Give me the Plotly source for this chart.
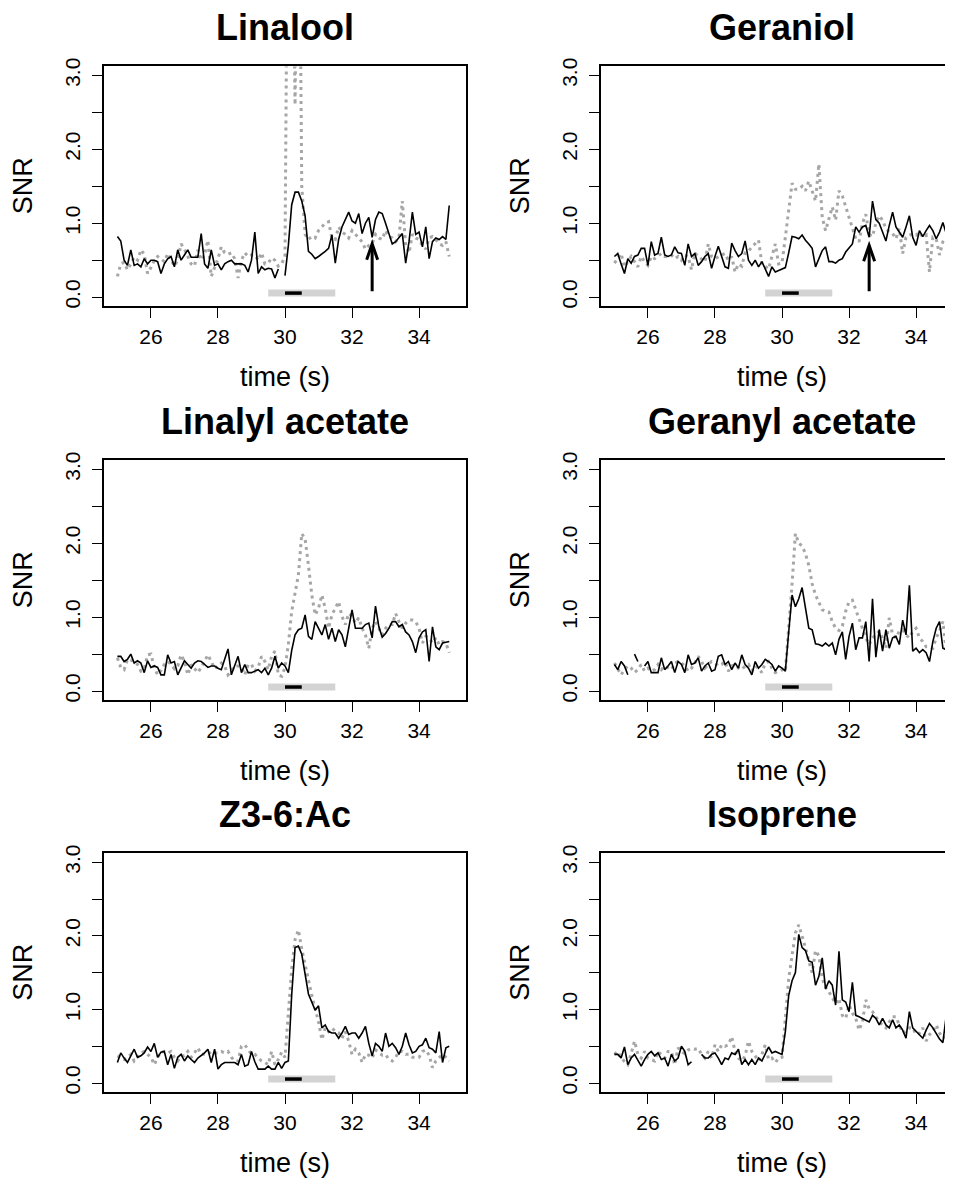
import plotly.graph_objects as go

PAGE_W, PAGE_H = 953, 1185
OFF = 8  # default body margin of the html page
W, H = PAGE_W - OFF, PAGE_H - OFF

# ---------------- data ----------------
time_s = [round(25.0 + 0.1 * i, 1) for i in range(100)]

titles = ["Linalool", "Geraniol", "Linalyl acetate", "Geranyl acetate", "Z3-6:Ac", "Isoprene"]

linalool_black = [
    0.82, 0.76, 0.50, 0.43, 0.64, 0.43, 0.45, 0.41, 0.52, 0.45,
    0.50, 0.50, 0.48, 0.32, 0.45, 0.52, 0.55, 0.41, 0.64, 0.50,
    0.57, 0.64, 0.54, 0.54, 0.54, 0.86, 0.45, 0.39, 0.64, 0.43,
    0.45, 0.37, 0.45, 0.48, 0.50, 0.45, 0.45, 0.45, 0.43, 0.34,
    0.50, 0.88, 0.32, 0.41, 0.37, 0.39, 0.38, 0.26, 0.38, None,
    0.29, 0.70, 1.25, 1.42, 1.42, 1.30, 1.10, 0.62, 0.58, 0.52,
    0.55, 0.58, 0.62, 0.66, 0.84, 0.46, 0.78, 0.95, 1.05, 1.15,
    1.03, 1.00, 1.13, 0.86, 1.00, 1.08, 0.81, 1.05, 1.15, 1.13,
    1.00, 0.85, 0.72, 0.75, 0.80, 0.86, 0.46, 0.75, 1.15, 0.85,
    0.88, 0.68, 0.95, 0.52, 0.75, 0.80, 0.78, 0.82, 0.78, 1.24]
linalool_gray = [
    0.28, 0.45, 0.47, 0.37, 0.45, 0.54, 0.50, 0.64, 0.58, 0.32,
    0.40, 0.50, 0.55, 0.52, 0.48, 0.59, 0.50, 0.42, 0.50, 0.72,
    0.65, 0.55, 0.45, 0.42, 0.64, 0.50, 0.58, 0.77, 0.28, 0.40,
    0.52, 0.68, 0.60, 0.58, 0.60, 0.52, 0.26, 0.50, 0.60, 0.55,
    0.57, 0.57, 0.50, 0.60, 0.45, 0.46, 0.53, 0.50, 0.42, 0.45,
    0.55, 7.00, 6.00, 2.60, 7.00, 1.50, 0.85, 0.78, 0.82, 0.80,
    0.90, 0.95, 1.00, 1.02, 0.80, 0.78, 0.95, 0.88, 0.85, 0.80,
    0.90, 0.85, 0.80, 0.75, 0.65, 0.70, 0.72, 0.85, 0.80, 0.78,
    0.90, 0.82, 0.80, 0.75, 0.80, 1.30, 0.70, 0.60, 0.85, 0.80,
    0.78, 0.70, 0.65, 0.80, 0.82, 0.78, 0.72, 0.70, 0.75, 0.55]

geraniol_black = [
    0.55, 0.59, 0.45, 0.32, 0.52, 0.46, 0.55, 0.57, 0.66, 0.66,
    0.43, 0.75, 0.57, 0.59, 0.81, 0.57, 0.55, 0.57, 0.68, 0.60,
    0.59, 0.43, 0.72, 0.55, 0.59, 0.43, 0.48, 0.55, 0.59, 0.39,
    0.55, 0.69, 0.55, 0.41, 0.39, 0.73, 0.63, 0.55, 0.59, 0.76,
    0.50, 0.43, 0.50, 0.41, 0.48, 0.39, 0.28, 0.41, 0.34, 0.36,
    0.38, 0.40, 0.60, 0.82, 0.81, 0.79, 0.84, 0.77, 0.72, 0.66,
    0.41, 0.52, 0.63, 0.68, 0.48, 0.48, 0.46, 0.50, 0.52, 0.61,
    0.66, 0.72, 0.95, 0.88, 0.95, 0.97, 0.81, 1.30, 1.05, 1.00,
    0.88, 0.76, 0.97, 1.15, 0.95, 0.88, 0.81, 0.95, 1.10, 0.81,
    0.70, 0.90, 0.82, 0.90, 0.97, 0.90, 0.79, 0.88, 1.01, 0.86]
geraniol_gray = [
    0.46, 0.52, 0.59, 0.41, 0.48, 0.55, 0.48, 0.41, 0.55, 0.48,
    0.43, 0.55, 0.52, 0.55, 0.59, 0.55, 0.55, 0.57, 0.52, 0.55,
    0.50, 0.57, 0.55, 0.37, 0.60, 0.55, 0.52, 0.48, 0.72, 0.55,
    0.52, 0.55, 0.57, 0.59, 0.50, 0.55, 0.34, 0.45, 0.42, 0.60,
    0.62, 0.68, 0.73, 0.77, 0.45, 0.41, 0.38, 0.55, 0.72, 0.45,
    0.46, 0.81, 1.22, 1.54, 1.46, 1.46, 1.50, 1.44, 1.57, 1.42,
    1.30, 1.80, 1.08, 0.90, 1.08, 1.22, 1.04, 1.44, 1.37, 1.22,
    1.06, 0.93, 0.79, 0.75, 1.00, 1.12, 0.85, 0.82, 1.00, 1.10,
    1.04, 0.93, 0.88, 0.86, 0.79, 0.93, 0.59, 0.81, 0.84, 0.86,
    0.84, 0.88, 0.81, 0.84, 0.34, 0.81, 0.79, 0.57, 0.75, 0.81]

linalyl_black = [
    0.47, 0.47, 0.40, 0.43, 0.50, 0.38, 0.41, 0.38, 0.25, 0.41,
    0.32, 0.34, 0.32, 0.22, 0.22, 0.49, 0.38, 0.40, 0.22, 0.31,
    0.41, 0.36, 0.31, 0.38, 0.41, 0.40, 0.36, 0.32, 0.34, 0.34,
    0.31, 0.29, 0.43, 0.57, 0.22, 0.34, 0.47, 0.25, 0.36, 0.25,
    0.25, 0.27, 0.29, 0.25, 0.31, 0.22, 0.31, 0.47, 0.31, 0.38,
    0.34, 0.25, 0.55, 0.76, 0.83, 0.85, 1.03, 0.74, 0.70, 0.94,
    0.85, 0.76, 0.90, 0.70, 0.85, 0.67, 0.83, 0.76, 0.60, 0.83,
    1.10, 0.85, 0.85, 0.85, 0.90, 0.92, 0.72, 1.15, 0.87, 0.73,
    0.78, 0.85, 0.94, 0.94, 0.87, 0.90, 0.80, 0.76, 0.67, 0.52,
    0.72, 0.80, 0.83, 0.40, 0.87, 0.60, 0.56, 0.65, 0.66, 0.67]
linalyl_gray = [
    0.45, 0.32, 0.29, 0.43, 0.42, 0.40, 0.36, 0.27, 0.30, 0.49,
    0.50, 0.32, 0.22, 0.28, 0.36, 0.40, 0.36, 0.30, 0.34, 0.49,
    0.40, 0.22, 0.36, 0.30, 0.25, 0.32, 0.40, 0.49, 0.40, 0.30,
    0.34, 0.38, 0.34, 0.22, 0.27, 0.34, 0.34, 0.32, 0.22, 0.36,
    0.36, 0.27, 0.32, 0.47, 0.40, 0.29, 0.47, 0.54, 0.22, 0.20,
    0.32, 0.63, 1.08, 1.34, 1.57, 2.13, 2.06, 1.70, 1.30, 1.03,
    1.12, 1.30, 1.12, 0.85, 1.03, 1.12, 1.21, 1.01, 0.90, 1.05,
    1.01, 0.92, 0.99, 0.85, 0.76, 0.58, 0.85, 0.94, 0.85, 0.76,
    0.85, 0.90, 0.90, 1.05, 0.94, 0.85, 0.92, 0.96, 0.96, 0.94,
    0.85, 0.65, 0.74, 0.72, 0.65, 0.72, 0.63, 0.67, 0.65, 0.52]

geranyl_black = [
    0.36, 0.29, 0.40, 0.34, 0.22, None, 0.50, 0.40, None, 0.34,
    0.40, 0.25, 0.25, 0.25, 0.45, 0.29, 0.34, 0.40, 0.25, 0.40,
    0.36, 0.25, 0.49, 0.36, 0.38, 0.45, 0.27, 0.34, 0.38, 0.27,
    0.29, 0.47, 0.49, 0.36, 0.40, 0.29, 0.38, 0.31, 0.49, 0.36,
    0.31, 0.22, 0.40, 0.31, 0.36, 0.43, 0.40, 0.36, 0.27, 0.34,
    0.31, 0.27, 0.80, 1.30, 1.14, 1.25, 1.40, 1.10, 0.85, 0.83,
    0.64, 0.63, 0.61, 0.65, 0.61, 0.65, 0.49, 0.70, 0.80, 0.43,
    0.74, 0.92, 0.56, 0.72, 0.72, 0.94, 0.40, 1.25, 0.46, 0.83,
    0.54, 0.83, 0.58, 0.72, 0.74, 0.63, 0.96, 0.76, 1.43, 0.54,
    0.58, 0.52, 0.56, 0.52, 0.40, 0.67, 0.85, 0.94, 0.58, 0.56]
geranyl_gray = [
    0.38, 0.29, 0.22, 0.29, 0.34, 0.31, 0.25, 0.29, 0.36, 0.27,
    0.31, 0.27, 0.29, 0.36, 0.29, 0.34, 0.31, 0.29, 0.38, 0.40,
    0.38, 0.34, 0.27, 0.31, 0.38, 0.47, 0.40, 0.31, 0.36, 0.40,
    0.38, 0.34, 0.36, 0.40, 0.27, 0.34, 0.36, 0.31, 0.29, 0.34,
    0.36, 0.27, 0.34, 0.31, 0.25, 0.38, 0.40, 0.31, 0.25, 0.27,
    0.29, 0.27, 0.80, 1.45, 2.13, 2.00, 1.96, 1.86, 1.70, 1.45,
    1.30, 1.20, 1.10, 1.08, 1.07, 0.94, 0.85, 0.82, 0.88, 1.08,
    1.21, 1.23, 1.10, 0.99, 0.85, 0.72, 0.63, 0.72, 0.76, 0.81,
    0.72, 0.58, 0.99, 0.76, 0.72, 0.81, 0.83, 0.76, 0.72, 0.81,
    0.85, 0.72, 0.67, 0.60, 0.60, 0.58, 0.72, 0.81, 0.94, 0.54]

z36ac_black = [
    0.28, 0.41, 0.34, 0.28, 0.37, 0.46, 0.35, 0.37, 0.41, 0.49,
    0.43, 0.54, 0.35, 0.42, 0.43, 0.25, 0.39, 0.20, 0.35, 0.39,
    0.30, 0.37, 0.32, 0.28, 0.34, 0.37, 0.41, 0.46, 0.28, 0.46,
    0.19, 0.25, 0.28, 0.28, 0.28, 0.28, 0.25, 0.39, 0.23, 0.25,
    0.43, 0.29, 0.19, 0.19, 0.19, 0.23, 0.19, 0.19, 0.28, 0.20,
    0.28, 0.30, 1.20, 1.84, 1.86, 1.75, 1.50, 1.21, 1.10, 0.99,
    1.05, 0.75, 0.79, 0.70, 0.68, 0.68, 0.61, 0.68, 0.77, 0.66,
    0.68, 0.68, 0.61, 0.68, 0.77, 0.54, 0.37, 0.54, 0.50, 0.43,
    0.68, 0.50, 0.54, 0.48, 0.39, 0.50, 0.68, 0.52, 0.41, 0.43,
    0.50, 0.52, 0.61, 0.48, 0.46, 0.41, 0.70, 0.28, 0.48, 0.50]
z36ac_gray = [
    0.37, 0.34, 0.32, 0.35, 0.39, 0.30, 0.35, 0.41, 0.43, 0.39,
    0.35, 0.25, 0.35, 0.42, 0.43, 0.41, 0.43, 0.35, 0.30, 0.37,
    0.37, 0.43, 0.35, 0.41, 0.48, 0.39, 0.39, 0.39, 0.43, 0.41,
    0.41, 0.43, 0.41, 0.43, 0.35, 0.30, 0.30, 0.50, 0.52, 0.45,
    0.39, 0.39, 0.35, 0.30, 0.28, 0.25, 0.43, 0.25, 0.32, 0.42,
    0.35, 0.90, 1.55, 1.95, 2.08, 1.82, 1.60, 1.41, 1.19, 1.01,
    0.83, 0.59, 0.75, 0.70, 0.75, 0.70, 0.68, 0.61, 0.70, 0.57,
    0.39, 0.46, 0.41, 0.28, 0.39, 0.38, 0.34, 0.45, 0.41, 0.38,
    0.39, 0.32, 0.30, 0.35, 0.43, 0.43, 0.39, 0.39, 0.35, 0.35,
    0.35, 0.43, 0.45, 0.38, 0.21, 0.30, 0.35, 0.39, 0.35, 0.30]

isoprene_black = [
    0.39, 0.39, 0.34, 0.49, 0.25, 0.34, 0.39, 0.30, 0.23, 0.32,
    0.39, 0.43, 0.37, 0.41, 0.32, 0.34, 0.23, 0.39, 0.30, 0.34,
    0.50, 0.43, 0.25, 0.29, None, None, 0.39, 0.34, 0.34, 0.39,
    0.41, 0.34, 0.25, 0.34, 0.32, 0.41, 0.39, 0.46, 0.25, 0.32,
    0.25, 0.32, 0.25, 0.34, 0.30, 0.39, 0.49, 0.41, 0.43, 0.41,
    0.39, 0.70, 1.19, 1.39, 1.50, 2.02, 1.84, 1.80, 1.66, 1.64,
    1.33, 1.45, 1.70, 1.28, 1.39, 1.33, 1.06, 1.79, 1.13, 1.10,
    0.97, 1.37, 0.92, 0.90, 0.88, 0.86, 0.83, 0.92, 0.88, 0.79,
    0.88, 0.79, 0.75, 0.86, 0.75, 0.79, 0.72, 0.61, 0.97, 0.75,
    0.70, 0.66, 0.61, 0.72, 0.81, 0.75, 0.68, 0.60, 0.55, 0.92]
isoprene_gray = [
    0.39, 0.43, 0.34, 0.30, 0.25, 0.40, 0.57, 0.39, 0.34, 0.43,
    0.34, 0.32, 0.30, 0.43, 0.39, 0.34, 0.43, 0.43, 0.25, 0.48,
    0.43, 0.40, 0.45, 0.47, 0.46, 0.47, 0.39, 0.34, 0.43, 0.34,
    0.52, 0.43, 0.52, 0.50, 0.52, 0.63, 0.43, 0.34, 0.30, 0.37,
    0.57, 0.43, 0.37, 0.30, 0.39, 0.52, 0.32, 0.34, 0.28, 0.34,
    0.35, 0.95, 1.42, 1.73, 2.04, 2.15, 2.00, 1.84, 1.66, 1.50,
    1.80, 1.73, 1.42, 1.30, 1.24, 1.15, 1.08, 1.15, 0.92, 0.88,
    1.06, 0.95, 0.88, 0.72, 0.83, 1.13, 1.01, 0.97, 0.90, 0.83,
    0.79, 0.75, 0.83, 0.90, 0.90, 0.79, 0.68, 0.70, 0.75, 0.75,
    0.66, 0.68, 0.75, 0.57, 0.66, 0.70, 0.79, 0.68, 0.61, 0.63]

black_series = [linalool_black, geraniol_black, linalyl_black,
                geranyl_black, z36ac_black, isoprene_black]
gray_series = [linalool_gray, geraniol_gray, linalyl_gray,
               geranyl_gray, z36ac_gray, isoprene_gray]

stim_window = [29.5, 31.5]     # light-gray bar
odor_pulse = [30.0, 30.5]      # black bar
bar_level = 0.055
arrow_panels = [0, 1]
arrow_time = 32.6
arrow_tail = [0.08, 0.08]
arrow_tip = [0.72, 0.70]

x_ticks = [26, 28, 30, 32, 34]
y_ticks = [0.0, 0.5, 1.0, 1.5, 2.0, 2.5, 3.0]
y_ticklabels = ["0.0", "", "1.0", "", "2.0", "", "3.0"]

# ---------------- layout geometry (page pixels) ----------------
FONT = "Liberation Sans, Arial, Helvetica, sans-serif"
col_px = [(104, 466), (601, 963)]
row_px = [(58, 300), (456, 698), (853, 1094)]
x_lo, x_hi = 24.6, 35.4
y_range = [-0.12, 3.12]
HEAD_HALF_W_PX, HEAD_LEN_PX = 5.5, 16


def px_x(p):
    return (p - OFF) / W


def px_y(p):
    return 1 - (p - OFF) / H


fig = go.Figure()
layout = dict(
    width=W, height=H, margin=dict(l=0, r=0, t=0, b=0, pad=0),
    paper_bgcolor="white", plot_bgcolor="white", showlegend=False,
    font=dict(family=FONT, color="black"),
)
shapes, annotations = [], []

for k in range(6):
    r, c = k // 2, k % 2
    xa = "x" if k == 0 else f"x{k + 1}"
    ya = "y" if k == 0 else f"y{k + 1}"
    xl, xr = col_px[c]
    yt, yb = row_px[r]
    xscale = (xr - xl) / (x_hi - x_lo)
    yscale = (yb - yt) / (y_range[1] - y_range[0])
    right_px = min(xr, PAGE_W)
    xrange = [x_lo, x_lo + (right_px - xl) / xscale]

    fig.add_trace(go.Scatter(
        x=time_s, y=gray_series[k], mode="lines", xaxis=xa, yaxis=ya,
        line=dict(color="#a6a6a6", width=3, dash="3px,4px"),
        hoverinfo="skip"))
    fig.add_trace(go.Scatter(
        x=time_s, y=black_series[k], mode="lines", xaxis=xa, yaxis=ya,
        line=dict(color="black", width=1.6), hoverinfo="skip"))

    axis_common = dict(
        showgrid=False, zeroline=False, ticks="outside", ticklen=10,
        tickwidth=1.4, tickcolor="black", showline=True, linecolor="black",
        linewidth=1.5, tickfont=dict(family=FONT, size=21, color="black"),
        fixedrange=True)
    layout["xaxis" if k == 0 else f"xaxis{k + 1}"] = dict(
        axis_common, domain=[px_x(xl), min(1.0, px_x(right_px))], range=xrange,
        tickvals=x_ticks, ticktext=[str(v) for v in x_ticks], mirror=True,
        anchor=ya, ticklabelstandoff=1)
    layout["yaxis" if k == 0 else f"yaxis{k + 1}"] = dict(
        axis_common, domain=[px_y(yb), px_y(yt)], range=y_range,
        tickvals=y_ticks, ticktext=y_ticklabels, tickangle=-90,
        mirror=(c == 0), anchor=xa, ticklabelstandoff=4)

    xref, yref = xa, ya
    shapes.append(dict(type="line", xref=xref, yref=yref,
                       x0=stim_window[0], x1=stim_window[1],
                       y0=bar_level, y1=bar_level,
                       line=dict(color="#d3d3d3", width=7)))
    shapes.append(dict(type="line", xref=xref, yref=yref,
                       x0=odor_pulse[0], x1=odor_pulse[1],
                       y0=bar_level, y1=bar_level,
                       line=dict(color="black", width=3.5)))

    if k in arrow_panels:
        i = arrow_panels.index(k)
        tip, tail = arrow_tip[i], arrow_tail[i]
        hw = HEAD_HALF_W_PX / xscale
        hl = HEAD_LEN_PX / yscale
        shapes.append(dict(type="line", xref=xref, yref=yref,
                           x0=arrow_time, x1=arrow_time, y0=tail, y1=tip - 0.02,
                           line=dict(color="black", width=3)))
        shapes.append(dict(
            type="path", xref=xref, yref=yref,
            path=(f"M {arrow_time - hw},{tip - hl} L {arrow_time},{tip} "
                  f"L {arrow_time + hw},{tip - hl}"),
            line=dict(color="black", width=3)))

    cx = (xl + xr) / 2
    # panel title
    annotations.append(dict(
        x=px_x(cx), y=px_y(yt - 39), xref="paper", yref="paper",
        text=f"<b>{titles[k]}</b>", showarrow=False, xanchor="center",
        yanchor="middle", font=dict(family=FONT, size=36, color="black")))
    # y axis title
    annotations.append(dict(
        x=px_x(xl - 81), y=px_y((yt + yb) / 2), xref="paper", yref="paper",
        text="SNR", textangle=-90, showarrow=False, xanchor="center",
        yanchor="middle", font=dict(family=FONT, size=27, color="black")))
    # x axis title
    annotations.append(dict(
        x=px_x(cx), y=px_y(yb + 72), xref="paper", yref="paper",
        text="time (s)", showarrow=False, xanchor="center",
        yanchor="middle", font=dict(family=FONT, size=27, color="black")))

layout["shapes"] = shapes
layout["annotations"] = annotations
fig.update_layout(**layout)
fig.write_html("out.html")
